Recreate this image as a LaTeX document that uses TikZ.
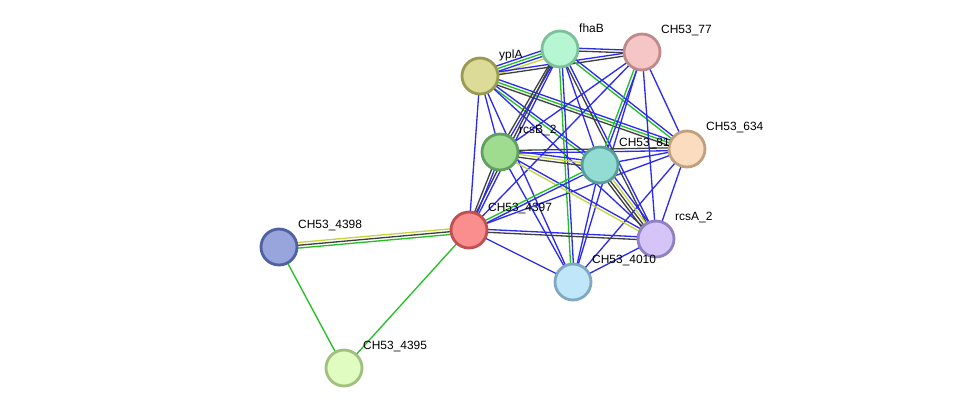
\documentclass[tikz,border=0pt]{standalone}
\usepackage{fontspec}
\setmainfont{Liberation Sans}
\usetikzlibrary{calc,backgrounds}

\definecolor{eB}{HTML}{2A2AF0}
\definecolor{eG}{HTML}{22C022}
\definecolor{eY}{HTML}{C4D43A}
\definecolor{eK}{HTML}{404040}

\tikzset{
  prot/.style={circle,line width=1.6pt,minimum size=0.72cm,inner sep=0pt},
  lbl/.style={anchor=west,inner sep=0.5pt,font=\fontsize{6.8}{8}\selectfont},
  edge/.style={line width=0.75pt}
}

% parallel lines between two proteins: colour/offset pairs
\newcommand{\link}[3]{%
  \foreach \col/\off in {#3}
    \draw[edge,\col] ($(#1.center)!\off pt!90:(#2.center)$) -- ($(#2.center)!\off pt!-90:(#1.center)$);%
}

\begin{document}
\begin{tikzpicture}[x=0.02cm,y=-0.02cm]
      \useasboundingbox (0,0) rectangle (975,414);

      \node[prot,fill={rgb,255:red,182;green,246;blue,210},draw={rgb,255:red,124;green,192;blue,154}] (fhaB) at (560,49){};
      \node[prot,fill={rgb,255:red,246;green,198;blue,198},draw={rgb,255:red,192;green,138;blue,138}] (c77) at (642,52){};
      \node[prot,fill={rgb,255:red,220;green,219;blue,152},draw={rgb,255:red,154;green,154;blue,82}] (yplA) at (480,76){};
      \node[prot,fill={rgb,255:red,251;green,220;blue,191},draw={rgb,255:red,192;green,160;blue,128}] (c634) at (687,149){};
      \node[prot,fill={rgb,255:red,160;green,220;blue,144},draw={rgb,255:red,96;green,160;blue,96}] (rcsB) at (500,152){};
      \node[prot,fill={rgb,255:red,146;green,220;blue,212},draw={rgb,255:red,90;green,156;blue,152}] (c81) at (600,165){};
      \node[prot,fill={rgb,255:red,250;green,142;blue,142},draw={rgb,255:red,192;green,80;blue,80}] (c4397) at (469,230){};
      \node[prot,fill={rgb,255:red,212;green,196;blue,248},draw={rgb,255:red,144;green,128;blue,192}] (rcsA) at (656,239){};
      \node[prot,fill={rgb,255:red,192;green,230;blue,250},draw={rgb,255:red,128;green,168;blue,192}] (c4010) at (573,282){};
      \node[prot,fill={rgb,255:red,152;green,164;blue,220},draw={rgb,255:red,80;green,96;blue,160}] (c4398) at (279,247){};
      \node[prot,fill={rgb,255:red,224;green,252;blue,192},draw={rgb,255:red,160;green,192;blue,128}] (c4395) at (344,368){};

      \node[lbl] (fhaB-l) at ($(fhaB)+(18,-21)$){fhaB};
      \node[lbl] (c77-l) at ($(c77)+(18,-21)$){CH53\_77};
      \node[lbl] (yplA-l) at ($(yplA)+(18,-21)$){yplA};
      \node[lbl] (c634-l) at ($(c634)+(18,-21)$){CH53\_634};
      \node[lbl] (rcsB-l) at ($(rcsB)+(18,-21)$){rcsB\_2};
      \node[lbl] (c81-l) at ($(c81)+(18,-21)$){CH53\_81};
      \node[lbl] (c4397-l) at ($(c4397)+(18,-21)$){CH53\_4397};
      \node[lbl] (rcsA-l) at ($(rcsA)+(18,-21)$){rcsA\_2};
      \node[lbl] (c4010-l) at ($(c4010)+(18,-21)$){CH53\_4010};
      \node[lbl] (c4398-l) at ($(c4398)+(18,-21)$){CH53\_4398};
      \node[lbl] (c4395-l) at ($(c4395)+(18,-21)$){CH53\_4395};

      \begin{scope}[on background layer]
      \link{yplA}{fhaB}{eY/-2.4,eB/-0.8,eG/0.8,eB/2.4}
      \link{yplA}{c77}{eK/-0.8,eB/0.8}
      \link{yplA}{c634}{eK/-1.6,eG/0,eB/1.6}
      \link{yplA}{rcsB}{eB/0}
      \link{yplA}{c81}{eG/-0.8,eB/0.8}
      \link{yplA}{c4397}{eB/0}
      \link{yplA}{rcsA}{eB/0}
      \link{yplA}{c4010}{eB/0}
      \link{fhaB}{c77}{eK/-0.8,eB/0.8}
      \link{fhaB}{c634}{eG/-0.8,eB/0.8}
      \link{fhaB}{rcsB}{eK/-0.8,eB/0.8}
      \link{fhaB}{c81}{eB/0}
      \link{fhaB}{c4397}{eK/-0.8,eB/0.8}
      \link{fhaB}{rcsA}{eK/-0.8,eB/0.8}
      \link{fhaB}{c4010}{eG/-0.8,eB/0.8}
      \link{c77}{c634}{eB/0}
      \link{c77}{rcsB}{eB/0}
      \link{c77}{c81}{eG/-0.8,eB/0.8}
      \link{c77}{c4397}{eB/0}
      \link{c77}{rcsA}{eB/0}
      \link{c77}{c4010}{eB/0}
      \link{c634}{rcsB}{eK/-0.8,eB/0.8}
      \link{c634}{c81}{eB/0}
      \link{c634}{c4397}{eB/0}
      \link{c634}{rcsA}{eB/0}
      \link{c634}{c4010}{eB/0}
      \link{rcsB}{c81}{eK/-1.6,eY/0,eB/1.6}
      \link{rcsB}{c4397}{eK/-0.8,eB/0.8}
      \link{rcsB}{rcsA}{eY/-0.8,eB/0.8}
      \link{rcsB}{c4010}{eB/0}
      \link{c81}{c4397}{eG/-0.8,eB/0.8}
      \link{c81}{rcsA}{eK/-2.4,eK/-0.8,eY/0.8,eB/2.4}
      \link{c81}{c4010}{eB/0}
      \link{c4397}{rcsA}{eK/-0.8,eB/0.8}
      \link{c4397}{c4010}{eB/0}
      \link{rcsA}{c4010}{eB/0}
      \link{c4397}{c4398}{eY/-1.6,eK/0,eG/1.6}
      \link{c4397}{c4395}{eG/0}
      \link{c4398}{c4395}{eG/0}
      \end{scope}

    \end{tikzpicture}
\end{document}
